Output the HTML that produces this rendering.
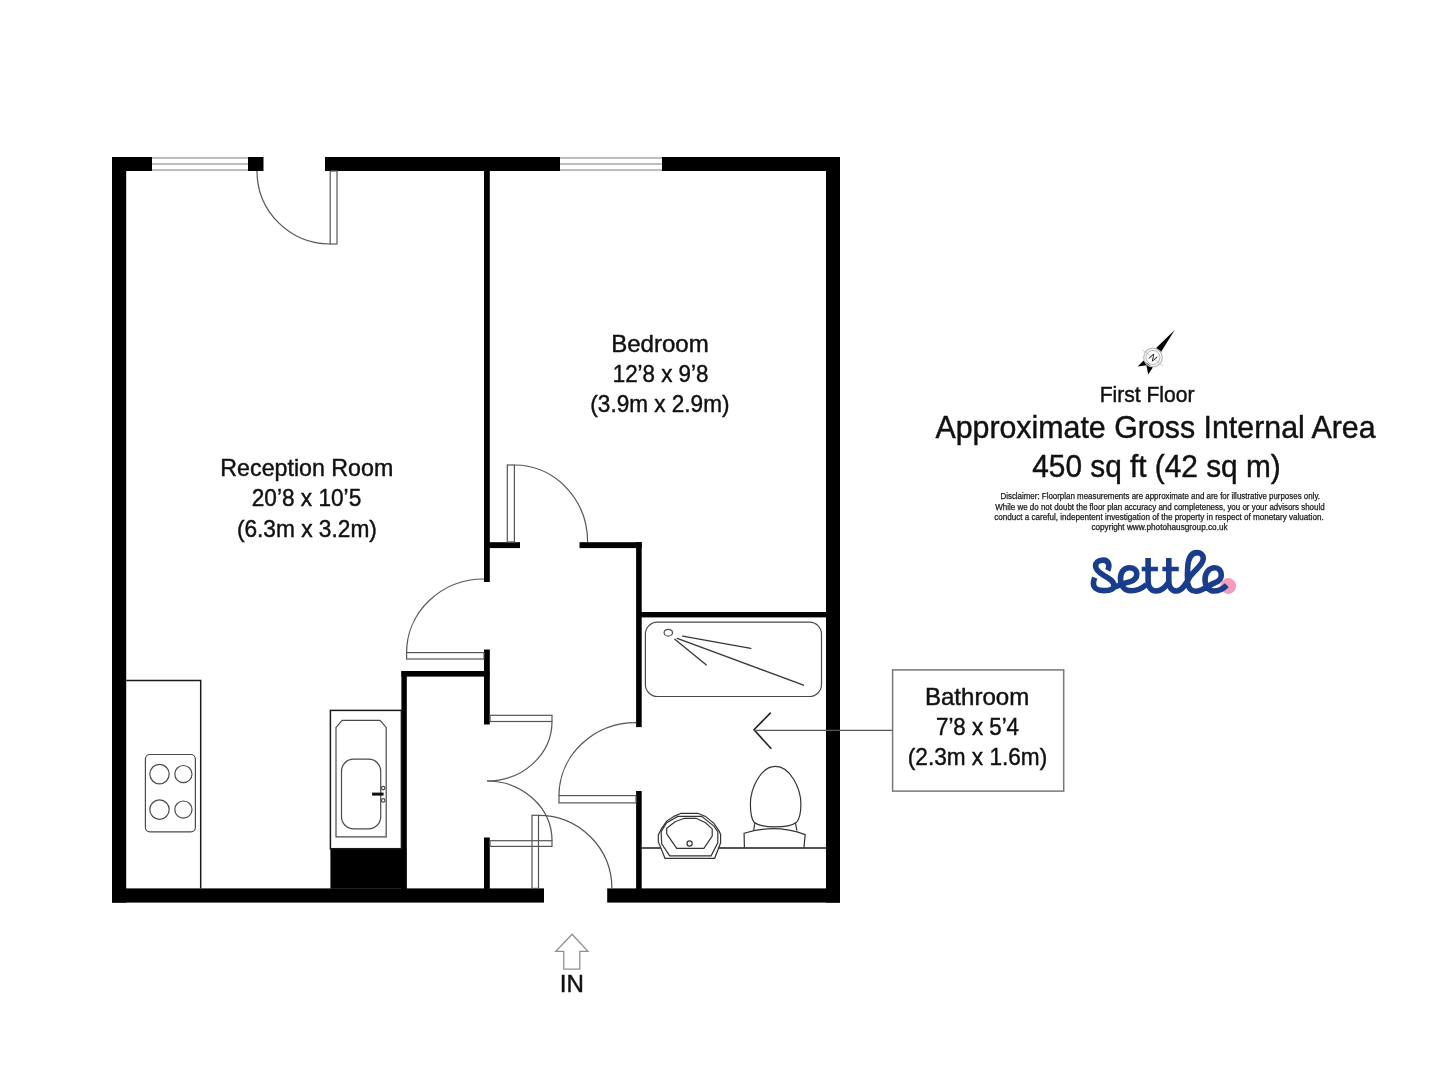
<!DOCTYPE html>
<html><head><meta charset="utf-8">
<style>
html,body{margin:0;padding:0;background:#fff;width:1442px;height:1080px;overflow:hidden}
svg{display:block;will-change:transform}
text{font-family:"Liberation Sans",sans-serif;fill:#111}
</style></head>
<body>
<svg width="1442" height="1080" viewBox="0 0 1442 1080">
<rect x="0" y="0" width="1442" height="1080" fill="#fff"/>
<!-- walls -->
<g fill="#000">
<rect x="112" y="157" width="40" height="14"/>
<rect x="112" y="157" width="14.2" height="745.6"/>
<rect x="248" y="157" width="15.5" height="14"/>
<rect x="325" y="157" width="235" height="14"/>
<rect x="662" y="157" width="178" height="14"/>
<rect x="826" y="157" width="14" height="745.6"/>
<rect x="112" y="888.4" width="432" height="14.2"/>
<rect x="607.2" y="888.4" width="232.8" height="14.2"/>
<rect x="484" y="170" width="5.8" height="412"/>
<rect x="484" y="542.2" width="36" height="5.9"/>
<rect x="579.5" y="542.2" width="62.2" height="5.9"/>
<rect x="636.1" y="542.2" width="5.6" height="184.9"/>
<rect x="641" y="612" width="185.5" height="5.4"/>
<rect x="636.1" y="791" width="5.6" height="98"/>
<rect x="484" y="649.5" width="5.8" height="75"/>
<rect x="484" y="837.5" width="5.8" height="51.5"/>
<rect x="401.4" y="671" width="88" height="5.6"/>
<rect x="401.4" y="671" width="5.4" height="218"/>
<rect x="330.4" y="848.7" width="76" height="40"/>
</g>
<!-- windows -->
<g stroke="#a9a9a9" stroke-width="1.5" fill="none">
<path d="M152,158H248M152,164H248M152,170H248"/>
<path d="M560,158H662M560,164H662M560,170H662"/>
</g>
<!-- doors -->
<g stroke="#555" stroke-width="1.2" fill="none">
<rect x="330.2" y="171" width="6.8" height="73"/>
<path d="M257,171 A73,73 0 0 0 330.2,244"/>
<rect x="507.3" y="465" width="7.1" height="77"/>
<path d="M514.4,465 A73.2,77 0 0 1 587.6,542"/>
<rect x="406.6" y="652.6" width="77.4" height="6.4"/>
<path d="M484,579 A77.4,73.6 0 0 0 406.6,652.6"/>
<rect x="490" y="715.3" width="62" height="6.2"/>
<path d="M552,721.5 A65,59.5 0 0 1 487,781"/>
<rect x="490" y="840.7" width="62" height="5.7"/>
<path d="M552,840.7 A65,59.7 0 0 0 487,781"/>
<rect x="532" y="815.3" width="6.5" height="73.1"/>
<path d="M538.5,815.3 A73.4,73.1 0 0 1 611.9,888.4"/>
<rect x="559" y="795.6" width="77" height="7.3"/>
<path d="M636,722.7 A77,72.9 0 0 0 559,795.6"/>
</g>
<!-- fixtures -->
<g fill="none" stroke="#1a1a1a" stroke-width="1.5">
<path d="M126.2,680.4H200.7V888.4"/>
<rect x="330.4" y="710.4" width="71" height="138.3" fill="#fff"/>
<path d="M641.7,847.9H826"/>
</g>
<g fill="none" stroke="#4a4a4a" stroke-width="1.2">
<rect x="145.4" y="754.5" width="50" height="77.3" rx="4.5"/>
<circle cx="159.5" cy="774.1" r="9.7"/>
<circle cx="183.4" cy="774.1" r="8.6"/>
<circle cx="159.5" cy="809.6" r="9.7"/>
<circle cx="183.4" cy="809.6" r="8.6"/>
<path d="M342.2,720.4H380L386.2,727.4V836.9H336V727.4Z"/>
<rect x="341.5" y="759.2" width="39.2" height="69.6" rx="12" ry="12"/>
<circle cx="383.2" cy="788.1" r="1.7"/>
<circle cx="383.2" cy="800.4" r="1.7"/>
<rect x="645.4" y="622.1" width="176.1" height="74.4" rx="12"/>
<ellipse cx="668.3" cy="632.7" rx="4.2" ry="3.4"/>
</g>
<rect x="372.1" y="792.6" width="11.5" height="3" fill="#111"/>
<g fill="none" stroke="#383838" stroke-width="1.35" stroke-linecap="round">
<path d="M682.6,636.2L750.8,648.3M677.3,638.3L803.5,685.2M674.8,639.3L706.4,664.9"/>
</g>
<g fill="none" stroke="#222" stroke-width="1.6">
<path d="M770.7,712.6L754,729.8L771.3,748.8"/>
</g>
<path d="M754,730.3H892.6" stroke="#555" stroke-width="1.2" fill="none"/>
<rect x="892.6" y="669.9" width="171.1" height="121.2" stroke="#777" stroke-width="1.5" fill="none"/>
<g fill="none" stroke="#333" stroke-width="1.2">
<path d="M775.4,766.4C790,766.4 800.9,788 800.9,804C800.9,815 798.5,820 796.7,822.2C788,828.5 762,828.5 754.1,822.2C752.3,820 750.4,815 750.4,804C750.4,788 761,766.4 775.4,766.4Z" fill="#fff"/>
<path d="M754.9,823L753.6,830.7M795.4,823L796.9,830.7"/>
<path d="M744.4,847.8L744.1,833.3Q774.9,823.5 805.2,834.6L803.9,847.8"/>
<path d="M681.1,813.3H697.8L705.6,816.4L713.9,823.3L718.9,830.6L720.6,834.4V842.8L714.7,858.3H665L658.3,841.7V835L661.7,828.3L666.7,821.1L674.4,816.1Z" fill="#fff"/>
<path d="M677.8,816.4H701.7L713.9,826.1L717.8,831.7V842.8L711.1,855.8H669.7L661.7,843.9L661.1,831.7L666.7,822.8Z"/>
<path d="M684.4,818.3H696.1L705.6,822.8L712.2,828.9V836.1L703.9,848.3H676.7L666.7,833.9V828.3L675,821.7Z"/>
<circle cx="689.6" cy="843.5" r="2.6"/>
</g>
<!-- extras -->
<path d="M572.1,934.2L587.9,951.3H579.8V969.2H563.75V951.3H555.8Z" fill="none" stroke="#8f8f8f" stroke-width="1.3" stroke-linejoin="miter"/>
<g id="compass">
<path d="M1142.8,350L1163.2,366.1" stroke="#c8c8c8" stroke-width="1"/>
<path d="M1174.7,329.9L1155.6,348.5L1160.7,352.6Z" fill="#000"/>
<path d="M1143.6,360.5L1137.7,366.4L1146.4,365.3L1148.2,374.5L1152.8,367.4Z" fill="#000"/>
<circle cx="1153" cy="357.4" r="9.3" fill="none" stroke="#bdbdbd" stroke-width="1.3"/>
<circle cx="1153" cy="357.4" r="7" fill="none" stroke="#a0a0a0" stroke-width="0.8"/>
<text transform="translate(1153,357.4) rotate(38)" y="3.3" font-size="9.5" text-anchor="middle" fill="#111" font-style="italic">N</text>
</g>
<g id="logo" fill="none" stroke="#193d8c" stroke-width="5.6" stroke-linecap="butt" stroke-linejoin="round">
<circle cx="1228.3" cy="586" r="7.9" fill="#f49cbe" stroke="none"/>
<path d="M1107.6,570.3C1109.8,566.5 1109.5,560 1103,560.1C1098,560.2 1095.6,563 1095.6,566C1095.6,570 1099,572.5 1104,575.5C1109.5,579 1114,581 1114,585.5C1114,589.5 1108.5,590.6 1103.5,590.6C1097,590.6 1093.4,587.5 1093.4,583.5C1093.4,581.2 1094,579.5 1094.8,577.7"/>
<path d="M1112,588C1118,585.5 1124,583 1130,581.7C1134.5,580.3 1136.8,577.5 1136.8,574C1136.8,570 1133.8,567.7 1129.5,567.7C1124,567.7 1120.5,572.5 1120.5,578.5C1120.5,586 1124.5,590.8 1131,590.8C1137,590.8 1142,588.5 1146.5,584.5"/>
<path d="M1148.1,557.9V581C1148.1,587.5 1151.5,591 1156,591C1161,591 1165,588 1168.8,582"/>
<path d="M1168.8,557.9V581C1168.8,587.5 1172,591 1176.5,591C1182,591 1186,584 1190,576.5C1194,570.5 1203.3,565 1203.3,558.5C1203.3,554.5 1200.5,552.6 1197,552.6C1191.5,552.6 1188.5,558 1187.8,566C1187.3,572 1187.3,578 1187.8,583C1188.5,588.5 1191.5,591.3 1196,591.3C1203,591 1209,584.5 1215,582.7C1219,581.3 1221.3,578.5 1221.3,575C1221.3,570.5 1218.5,567.7 1214.7,567.7C1209,567.7 1205,573 1205,579.5C1205,586.5 1209,591 1214,591C1219,591 1223.5,588.5 1226.8,585.2"/>
<path d="M1141.7,569H1157.9M1162.4,569H1178.8" stroke-width="4.7"/>
</g>
<!-- /extras -->
<!-- texts -->
<g text-anchor="middle">
<text x="306.80" y="476.2" font-size="24" fill="#111" stroke="#111" stroke-width="0.45" textLength="172.86" lengthAdjust="spacingAndGlyphs">Reception Room</text>
<text x="306.50" y="506" font-size="24" fill="#111" stroke="#111" stroke-width="0.45" textLength="109.48" lengthAdjust="spacingAndGlyphs">20’8 x 10’5</text>
<text x="306.90" y="536.5" font-size="24" fill="#111" stroke="#111" stroke-width="0.45" textLength="140.03" lengthAdjust="spacingAndGlyphs">(6.3m x 3.2m)</text>
<text x="660.00" y="351.9" font-size="24" fill="#111" stroke="#111" stroke-width="0.45" textLength="97.61" lengthAdjust="spacingAndGlyphs">Bedroom</text>
<text x="660.60" y="381.7" font-size="24" fill="#111" stroke="#111" stroke-width="0.45" textLength="95.77" lengthAdjust="spacingAndGlyphs">12’8 x 9’8</text>
<text x="659.90" y="411.8" font-size="24" fill="#111" stroke="#111" stroke-width="0.45" textLength="139.06" lengthAdjust="spacingAndGlyphs">(3.9m x 2.9m)</text>
<text x="977.10" y="705.1" font-size="24" fill="#111" stroke="#111" stroke-width="0.45" textLength="104.39" lengthAdjust="spacingAndGlyphs">Bathroom</text>
<text x="977.50" y="735" font-size="24" fill="#111" stroke="#111" stroke-width="0.45" textLength="83.01" lengthAdjust="spacingAndGlyphs">7’8 x 5’4</text>
<text x="977.50" y="764.8" font-size="24" fill="#111" stroke="#111" stroke-width="0.45" textLength="139.36" lengthAdjust="spacingAndGlyphs">(2.3m x 1.6m)</text>
<text x="1147.10" y="402.2" font-size="22.5" fill="#111" stroke="#111" stroke-width="0.45" textLength="94.72" lengthAdjust="spacingAndGlyphs">First Floor</text>
<text x="1155.50" y="438.1" font-size="32" fill="#111" stroke="#111" stroke-width="0.45" textLength="440.21" lengthAdjust="spacingAndGlyphs">Approximate Gross Internal Area</text>
<text x="1156.50" y="477.2" font-size="31.5" fill="#111" stroke="#111" stroke-width="0.45" textLength="248.49" lengthAdjust="spacingAndGlyphs">450 sq ft (42 sq m)</text>
<text x="571.80" y="991.7" font-size="24.5" fill="#111" stroke="#111" stroke-width="0.45" textLength="24.11" lengthAdjust="spacingAndGlyphs">IN</text>
<text x="1160.20" y="499.3" font-size="8.3" fill="#222" stroke="#222" stroke-width="0.25" textLength="319.52" lengthAdjust="spacingAndGlyphs">Disclaimer: Floorplan measurements are approximate and are for illustrative purposes only.</text>
<text x="1160.00" y="509.5" font-size="8.3" fill="#222" stroke="#222" stroke-width="0.25" textLength="329.27" lengthAdjust="spacingAndGlyphs">While we do not doubt the floor plan accuracy and completeness, you or your advisors should</text>
<text x="1158.90" y="519.6" font-size="8.3" fill="#222" stroke="#222" stroke-width="0.25" textLength="329.54" lengthAdjust="spacingAndGlyphs">conduct a careful, indepentent investigation of the property in respect of monetary valuation.</text>
<text x="1159.50" y="529.6" font-size="8.3" fill="#222" stroke="#222" stroke-width="0.25" textLength="136.20" lengthAdjust="spacingAndGlyphs">copyright www.photohausgroup.co.uk</text>
</g>
<!-- /texts -->
</svg>
</body></html>
